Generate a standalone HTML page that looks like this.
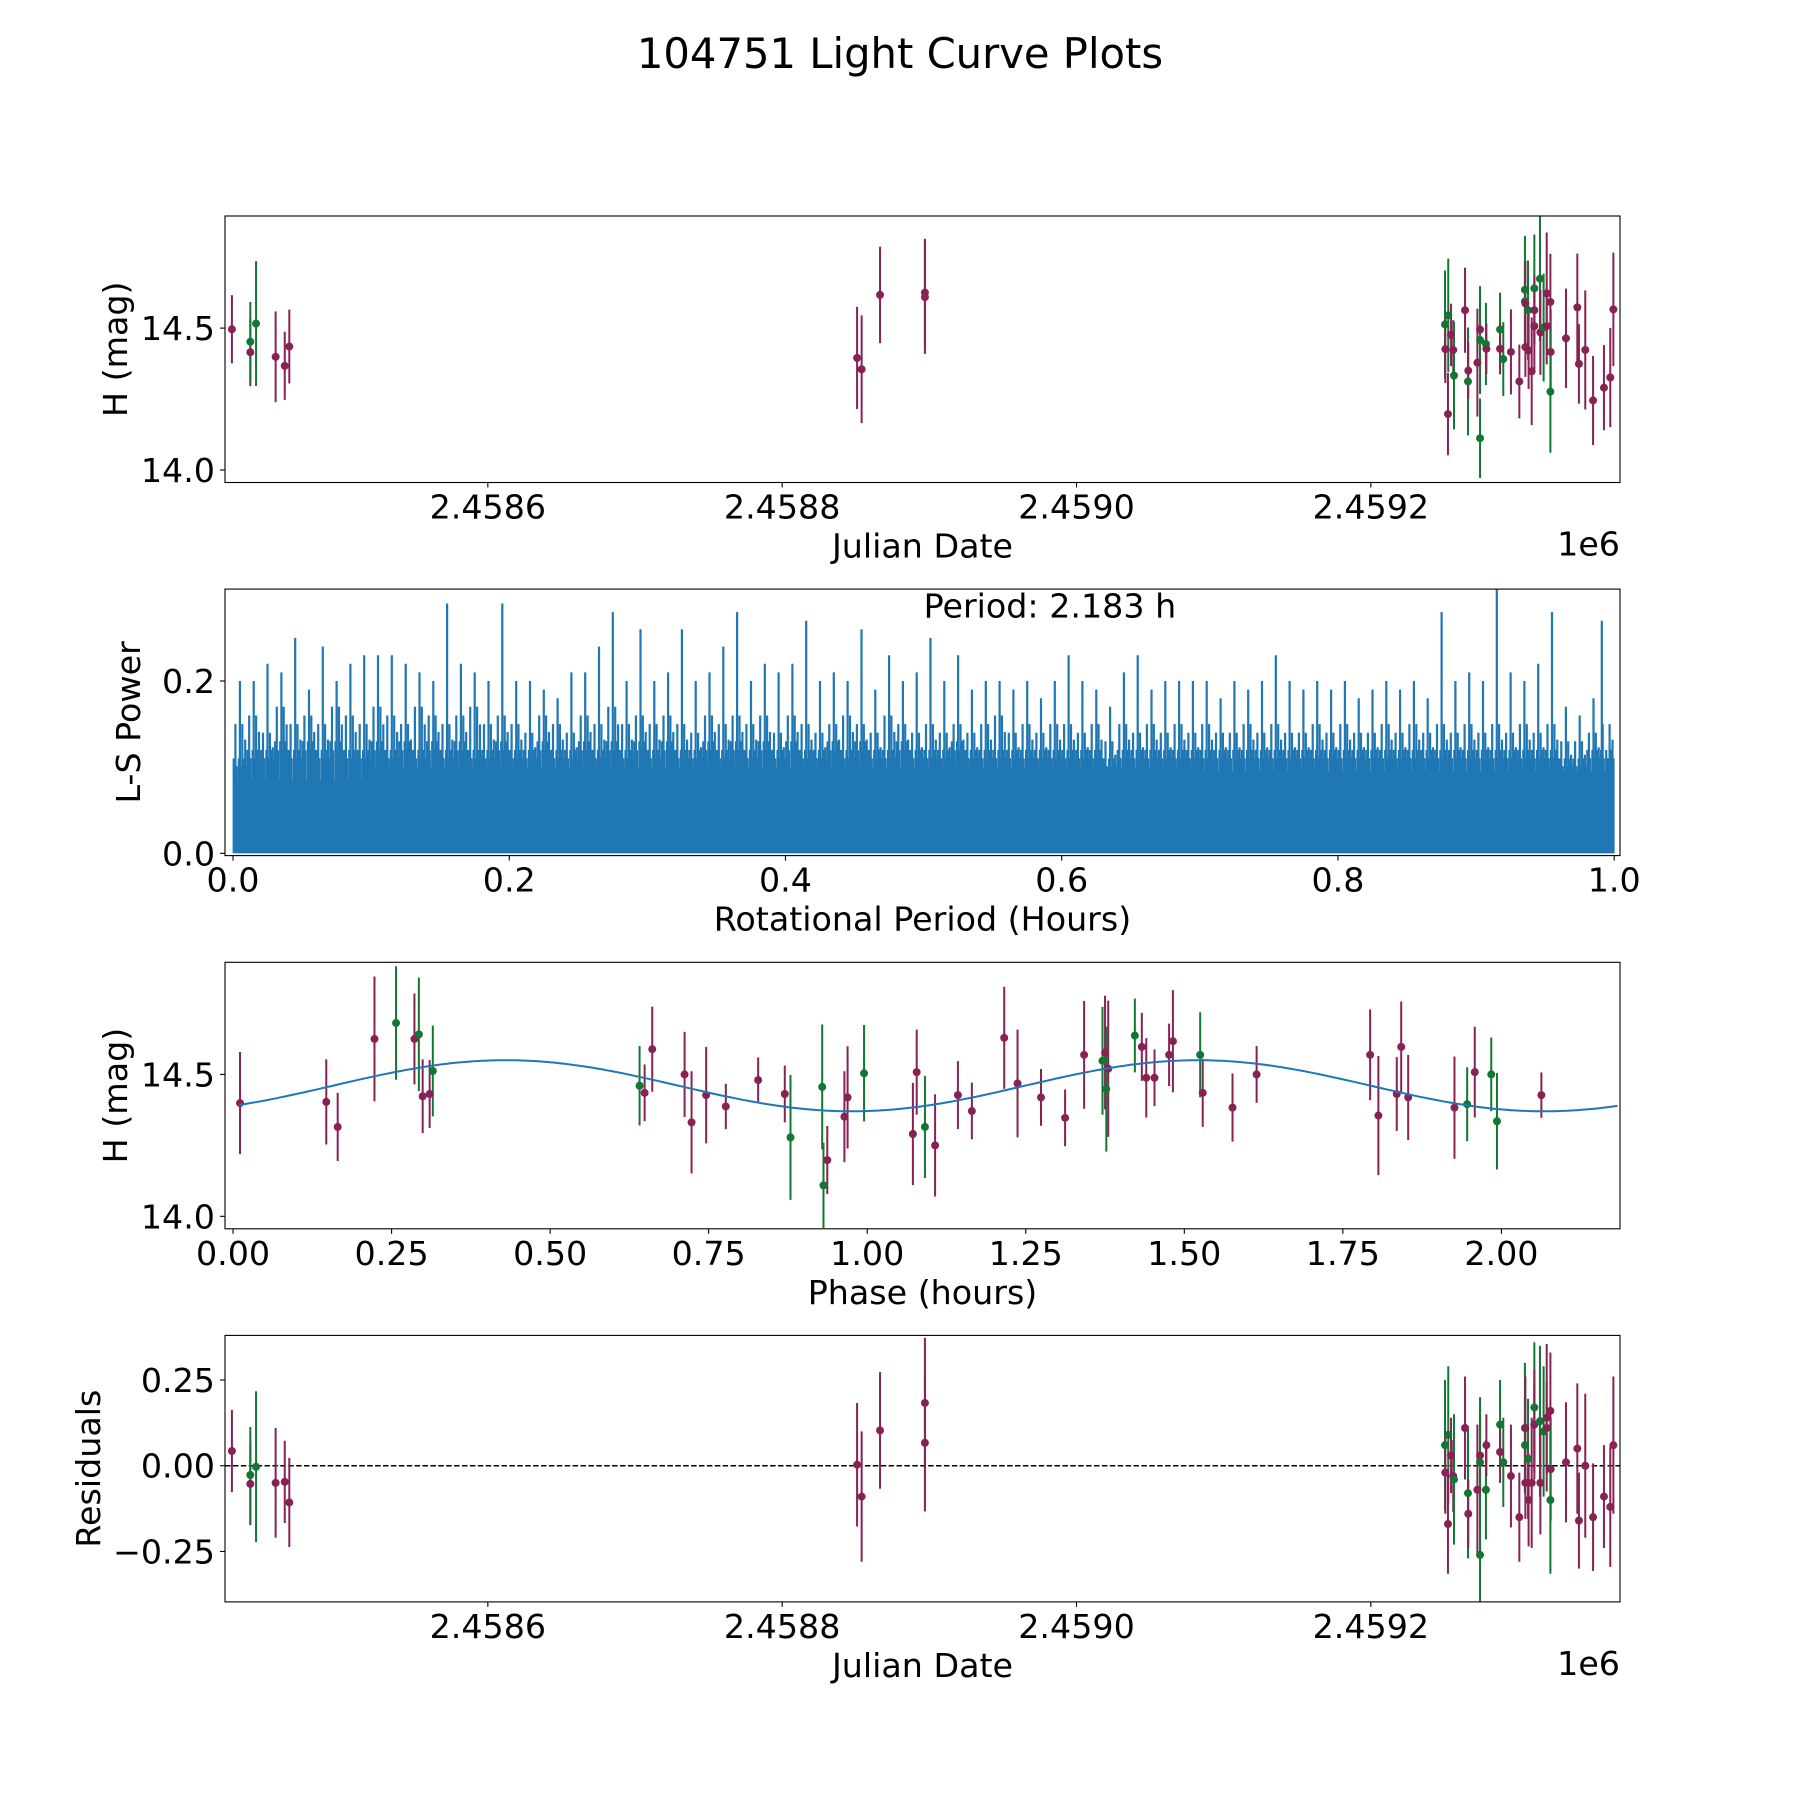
<!DOCTYPE html>
<html><head><meta charset="utf-8">
<style>
html,body{margin:0;padding:0;background:#fff;}
svg{display:block;font-family:"DejaVu Sans","Liberation Sans",sans-serif;}
</style></head>
<body>
<svg id="fig" width="1800" height="1800" viewBox="0 0 1800 1800" xmlns="http://www.w3.org/2000/svg">
<rect width="1800" height="1800" fill="#fff"/>
<text x="900" y="68" font-size="41.7" text-anchor="middle">104751 Light Curve Plots</text>
</svg>
<script>
// ---------- Panel 1 / 4 data (days = JD - 2458000) ----------
const jdDays = [426.1,438.6,438.6,442.5,455.8,462.0,465.1,850.9,854.0,866.5,897.0,897.0,
1250.4,1250.6,1252.6,1252.4,1254.5,1256.0,1256.5,1264.0,1266.0,1266.2,1272.4,1274.2,1274.2,1274.2,1278.2,1278.5,
1287.8,1287.8,1290.0,1295.2,1300.9,1304.7,1304.7,1305.0,1305.0,1306.8,1307.2,1309.3,1311.1,1311.1,1311.1,1314.9,1315.2,
1317.4,1319.5,1319.5,1322.0,1322.2,1322.0,1332.6,1340.3,1341.4,1345.7,1351.0,1358.4,1362.7,1364.8];
const magH = [14.496,14.415,14.452,14.516,14.399,14.367,14.435,14.395,14.355,14.617,14.625,14.609,
14.513,14.426,14.545,14.197,14.476,14.423,14.333,14.563,14.312,14.350,14.378,14.112,14.495,14.458,14.444,14.427,
14.495,14.427,14.391,14.416,14.312,14.635,14.594,14.433,14.587,14.563,14.421,14.348,14.640,14.563,14.507,14.674,14.485,
14.502,14.622,14.507,14.592,14.416,14.276,14.464,14.573,14.374,14.423,14.245,14.290,14.326,14.566];
const magErr = [0.12,0.12,0.14,0.22,0.16,0.12,0.13,0.18,0.19,0.17,0.19,0.20,
0.19,0.12,0.20,0.145,0.11,0.105,0.19,0.15,0.19,0.10,0.19,0.14,0.13,0.19,0.145,0.09,
0.13,0.09,0.13,0.15,0.13,0.19,0.14,0.105,0.15,0.175,0.135,0.19,0.19,0.12,0.16,0.22,0.15,
0.19,0.215,0.135,0.17,0.15,0.215,0.175,0.19,0.14,0.21,0.157,0.15,0.175,0.20];
const filt = ["m","m","g","g","m","m","m","m","m","m","m","m",
"g","m","g","m","m","m","g","m","g","m","m","g","m","g","g","m",
"g","m","g","m","m","g","g","m","m","g","m","m","g","m","m","g","m",
"g","m","m","m","m","g","m","m","m","m","m","m","m","m"];
const resid = [0.043,-0.053,-0.027,-0.003,-0.05,-0.047,-0.107,0.003,-0.09,0.103,0.183,0.067,
0.06,-0.02,0.09,-0.17,0.03,-0.03,-0.04,0.11,-0.08,-0.14,-0.07,-0.26,0.03,0.01,-0.07,0.06,
0.12,0.04,0.01,-0.03,-0.15,0.11,0.06,-0.05,0.11,0.02,-0.10,-0.05,0.17,0.12,0.12,0.13,-0.05,
0.10,0.14,0.11,0.16,-0.01,-0.10,0.01,0.05,-0.16,0.00,-0.15,-0.09,-0.12,0.06];
const jdTicks = [600,800,1000,1200];
const jdTickLabels = ["2.4586","2.4588","2.4590","2.4592"];
const magTicks = [14.0,14.5];
const magTickLabels = ["14.0","14.5"];
const residTicks = [-0.25,0,0.25];
const residTickLabels = ["\u22120.25","0.00","0.25"];

// ---------- Panel 2 periodogram ----------
const binTop = [0.20,0.20,0.22,0.21,0.25,0.19,0.24,0.20,0.22,0.23,
0.23,0.23,0.22,0.21,0.20,0.29,0.22,0.21,0.20,0.29,
0.20,0.20,0.19,0.18,0.21,0.21,0.24,0.28,0.20,0.26,
0.20,0.21,0.26,0.20,0.21,0.24,0.28,0.20,0.22,0.21,
0.22,0.27,0.20,0.21,0.20,0.26,0.19,0.23,0.20,0.21,
0.25,0.20,0.23,0.19,0.20,0.20,0.19,0.20,0.18,0.20,
0.23,0.20,0.19,0.17,0.21,0.23,0.19,0.20,0.20,0.20,
0.20,0.18,0.20,0.19,0.20,0.23,0.20,0.19,0.20,0.19,
0.20,0.18,0.19,0.20,0.19,0.20,0.18,0.28,0.20,0.21,
0.20,0.307,0.21,0.20,0.22,0.28,0.17,0.16,0.18,0.27];
const binMid = [0.15,0.16,0.14,0.17,0.15,0.16,0.15,0.17,0.16,0.15,
0.17,0.16,0.15,0.17,0.16,0.15,0.16,0.17,0.15,0.16,
0.15,0.14,0.16,0.15,0.14,0.16,0.15,0.17,0.15,0.16,
0.15,0.16,0.15,0.14,0.16,0.15,0.16,0.15,0.16,0.14,
0.16,0.15,0.14,0.15,0.16,0.15,0.14,0.16,0.15,0.14,
0.15,0.14,0.15,0.14,0.15,0.16,0.14,0.15,0.14,0.15,
0.15,0.14,0.15,0.13,0.15,0.14,0.15,0.14,0.15,0.14,
0.15,0.14,0.14,0.15,0.14,0.15,0.14,0.14,0.15,0.14,
0.15,0.14,0.14,0.15,0.14,0.15,0.14,0.15,0.14,0.15,
0.14,0.15,0.14,0.15,0.14,0.15,0.13,0.13,0.14,0.15];
const binLow = [0.11,0.12,0.12,0.13,0.12,0.13,0.12,0.13,0.12,0.12,
0.13,0.12,0.13,0.12,0.13,0.12,0.13,0.12,0.12,0.13,
0.12,0.12,0.13,0.12,0.12,0.13,0.12,0.13,0.12,0.13,
0.12,0.13,0.12,0.12,0.13,0.12,0.13,0.12,0.13,0.12,
0.13,0.12,0.12,0.13,0.12,0.13,0.12,0.12,0.13,0.12,
0.12,0.12,0.13,0.12,0.12,0.12,0.12,0.12,0.12,0.12,
0.12,0.12,0.12,0.11,0.12,0.12,0.12,0.12,0.12,0.12,
0.12,0.12,0.12,0.12,0.12,0.12,0.12,0.12,0.12,0.12,
0.12,0.12,0.12,0.12,0.12,0.12,0.12,0.12,0.12,0.12,
0.12,0.12,0.12,0.12,0.12,0.12,0.11,0.11,0.12,0.12];
const binFill = [0.085,0.1,0.1,0.1,0.1,0.1,0.1,0.095,0.095,0.095];
const periodTicks = [0,0.2,0.4,0.6,0.8,1.0];
const periodTickLabels = ["0.0","0.2","0.4","0.6","0.8","1.0"];
const powerTicks = [0,0.2];
const powerTickLabels = ["0.0","0.2"];

// ---------- Panel 3 phase-folded ----------
const phase = [0.011,0.147,0.165,0.223,0.257,0.286,0.293,0.299,0.310,0.315,0.641,0.649,0.661,0.712,0.723,0.746,0.777,0.828,0.870,0.879,0.929,0.931,0.937,0.964,0.969,0.995,1.072,1.078,1.091,1.107,1.143,1.165,1.216,1.237,1.274,1.312,1.342,1.371,1.375,1.377,1.380,1.422,1.433,1.440,1.453,1.476,1.482,1.525,1.529,1.576,1.614,1.793,1.806,1.835,1.842,1.853,1.926,1.946,1.958,1.984,1.993,2.063];
const phaseMag = [14.399,14.403,14.315,14.625,14.681,14.625,14.641,14.423,14.431,14.512,14.460,14.435,14.589,14.500,14.331,14.427,14.387,14.480,14.431,14.278,14.456,14.109,14.198,14.351,14.419,14.504,14.290,14.508,14.315,14.250,14.427,14.371,14.629,14.468,14.419,14.347,14.569,14.548,14.577,14.448,14.520,14.637,14.597,14.488,14.488,14.569,14.617,14.569,14.435,14.383,14.500,14.569,14.355,14.431,14.597,14.419,14.383,14.395,14.508,14.500,14.335,14.427];
const phaseErr = [0.18,0.15,0.12,0.22,0.2,0.16,0.2,0.13,0.12,0.16,0.14,0.10,0.15,0.15,0.18,0.17,0.08,0.08,0.10,0.22,0.22,0.15,0.12,0.16,0.18,0.17,0.18,0.15,0.18,0.18,0.12,0.10,0.18,0.19,0.10,0.10,0.19,0.19,0.2,0.22,0.24,0.13,0.12,0.14,0.10,0.11,0.18,0.15,0.12,0.12,0.10,0.16,0.21,0.13,0.16,0.15,0.18,0.13,0.16,0.13,0.17,0.08];
const phaseFilt = ["m","m","m","m","g","m","g","m","m","g","g","m","m","m","m","m","m","m","m","g","g","g","m","m","m","g","m","m","g","m","m","m","m","m","m","m","m","g","m","g","m","g","m","m","m","m","m","g","m","m","m","m","m","m","m","m","m","g","m","g","g","m"];
const phaseTicks = [0,0.25,0.5,0.75,1.0,1.25,1.5,1.75,2.0];
const phaseTickLabels = ["0.00","0.25","0.50","0.75","1.00","1.25","1.50","1.75","2.00"];
const modelMean = [14.46];
const modelAmp = [0.09];
const modelPeriod = [1.0915];
const modelPhase0 = [0.157];
const modelRange = [0.01, 2.183];

// ---------- helpers ----------
const NS = "http://www.w3.org/2000/svg";
const svg = document.getElementById("fig");
const COL = {m:"#882255", g:"#117733"};
const L = 225, R = 1620, H = 266.5;
const FS = 33.3;
const TOPS = [216, 589.1, 962.3, 1335.4];
function mk(tag, attrs, parent){ const e = document.createElementNS(NS, tag); for (const k in attrs) e.setAttribute(k, attrs[k]); (parent||svg).appendChild(e); return e; }
function lin(d0,d1,r0,r1){ return v => r0 + (v-d0)/(d1-d0)*(r1-r0); }

function axesFrame(top, name, xTicks, xLabels, xs, yTicks, yLabels, ys, xTitle, yTitle, yTitleX, offsetText){
  const g = mk("g", {});
  
  
  const bot = top + H;
  xTicks.forEach((t,i)=>{
    const x = xs(t);
    const tk = mk("line", {x1:x, x2:x, y1:bot, y2:bot+5, stroke:"#000","stroke-width":1.1}, g);
    
    
    const tl = mk("text", {x:x, y:bot+36, "font-size":FS, "text-anchor":"middle"}, g);
    tl.textContent = xLabels[i];
    
    
  });
  yTicks.forEach((t,i)=>{
    const y = ys(t);
    const tk = mk("line", {x1:L-5, x2:L, y1:y, y2:y, stroke:"#000","stroke-width":1.1}, g);
    
    
    const tl = mk("text", {x:L-10, y:y+12, "font-size":FS, "text-anchor":"end"}, g);
    tl.textContent = yLabels[i];
    
    
  });
  const xt = mk("text", {x:(L+R)/2, y:bot+75, "font-size":FS, "text-anchor":"middle"}, g);
  xt.textContent = xTitle;
  
  
  const cy = top + H/2;
  const yt = mk("text", {x:yTitleX, y:cy, "font-size":FS, "text-anchor":"middle", transform:`rotate(-90 ${yTitleX} ${cy})`}, g);
  yt.textContent = yTitle;
  
  
  if (offsetText){
    const ot = mk("text", {x:R, y:bot+73, "font-size":FS, "text-anchor":"end"}, g);
    ot.textContent = offsetText;
    
    
  }
}
function spines(top, name){
  const r = mk("rect", {x:L, y:top, width:R-L, height:H, fill:"none", stroke:"#000", "stroke-width":1.1});
  
  
}
function clipFor(id, top){
  let defs = svg.querySelector("defs") || mk("defs", {});
  const cp = mk("clipPath", {id:id}, defs);
  mk("rect", {x:L, y:top, width:R-L, height:H}, cp);
}
function errPoints(xv, yv, ev, fv, xs, ys, clip, name){
  const g = mk("g", {"clip-path":`url(#${clip})`});
  
  
  xv.forEach((xd,i)=>{
    const x = xs(xd), c = COL[fv[i]];
    const eb = mk("line", {x1:x, x2:x, y1:ys(yv[i]-ev[i]), y2:ys(yv[i]+ev[i]), stroke:c, "stroke-width":2}, g);
    
    
  });
  xv.forEach((xd,i)=>{
    const p = mk("circle", {cx:xs(xd), cy:ys(yv[i]), r:4, fill:COL[fv[i]]}, g);
    
    
  });
}

// ---------- Panel 1 ----------
(function(){
  const top = TOPS[0];
  const xs = lin(421.4, 1369.3, L, R), ys = lin(13.956, 14.895, top+H, top);
  clipFor("c1", top);
  errPoints(jdDays, magH, magErr, filt, xs, ys, "c1", "light-curve-points");
  axesFrame(top, "light-curve-axes", jdTicks, jdTickLabels, xs, magTicks, magTickLabels, ys, "Julian Date", "H (mag)", 127, "1e6");
  spines(top, "light-curve-frame");
})();

// ---------- Panel 2 ----------
(function(){
  const top = TOPS[1];
  const xs = lin(-0.0058, 1.0042, L, R), ys = lin(-0.0027, 0.3067, top+H, top);
  clipFor("c2", top);
  const g = mk("g", {"clip-path":"url(#c2)"});
  
  
  binFill.forEach((v,i)=>{
    const x0 = xs(0.001 + i*0.1), x1 = xs(Math.min(1.0, 0.001 + (i+1)*0.1));
    const r = mk("rect", {x:x0, y:ys(v), width:x1-x0, height:ys(0)-ys(v), fill:"#1f77b4"}, g);
    
    
  });
  let d = "";
  binLow.forEach((v,i)=>{
    const c = (i+0.5)/100;
    [-0.0045,-0.0025,-0.0008,0.0008,0.0028,0.0045].forEach((o,j)=>{
      const x = xs(Math.min(1.0, c+o)).toFixed(1);
      d += `M${x},${ys(0).toFixed(1)}V${ys(v*(j%2?0.92:1.0)).toFixed(1)}`;
    });
  });
  binMid.forEach((v,i)=>{
    const c = (i+0.5)/100;
    [-0.0033, 0.0017, 0.0038].forEach(o=>{
      const x = xs(Math.min(1.0, c+o)).toFixed(1);
      d += `M${x},${ys(0).toFixed(1)}V${ys(v*(o>0.003?0.88:1)).toFixed(1)}`;
    });
  });
  binTop.forEach((v,i)=>{
    const x = xs((i+0.5)/100 - (i===99?0.004:0)).toFixed(1);
    d += `M${x},${ys(0).toFixed(1)}V${ys(v).toFixed(1)}`;
  });
  const p = mk("path", {d:d, stroke:"#1f77b4", "stroke-width":2.2, fill:"none"}, g);
  
  
  axesFrame(top, "periodogram-axes", periodTicks, periodTickLabels, xs, powerTicks, powerTickLabels, ys, "Rotational Period (Hours)", "L-S Power", 140, null);
  const t = mk("text", {x:xs(0.5), y:ys(0.274), "font-size":FS});
  t.textContent = "Period: 2.183 h";
  
  
  spines(top, "periodogram-frame");
})();

// ---------- Panel 3 ----------
(function(){
  const top = TOPS[2];
  const xs = lin(-0.0127, 2.187, L, R), ys = lin(13.956, 14.895, top+H, top);
  clipFor("c3", top);
  errPoints(phase, phaseMag, phaseErr, phaseFilt, xs, ys, "c3", "phased-points");
  let d = "";
  for (let k=0;k<=300;k++){
    const x = modelRange[0] + (modelRange[1]-modelRange[0])*k/300;
    const y = modelMean[0] + modelAmp[0]*Math.sin(2*Math.PI*(x-modelPhase0[0])/modelPeriod[0]);
    d += (k?"L":"M") + xs(x).toFixed(1) + "," + ys(y).toFixed(1);
  }
  const c = mk("path", {d:d, stroke:"#1f77b4", "stroke-width":2, fill:"none", "clip-path":"url(#c3)"});
  
  
  axesFrame(top, "phase-axes", phaseTicks, phaseTickLabels, xs, magTicks, magTickLabels, ys, "Phase (hours)", "H (mag)", 127, null);
  spines(top, "phase-frame");
})();

// ---------- Panel 4 ----------
(function(){
  const top = TOPS[3];
  const xs = lin(421.4, 1369.3, L, R), ys = lin(-0.397, 0.38, top+H, top);
  clipFor("c4", top);
  const z = mk("line", {x1:L, x2:R, y1:ys(0), y2:ys(0), stroke:"#000", "stroke-width":1.5, "stroke-dasharray":"5.5,2.4"});
  
  
  errPoints(jdDays, resid, magErr, filt, xs, ys, "c4", "residual-points");
  axesFrame(top, "residual-axes", jdTicks, jdTickLabels, xs, residTicks, residTickLabels, ys, "Julian Date", "Residuals", 100, "1e6");
  spines(top, "residual-frame");
})();
</script>
</body></html>
